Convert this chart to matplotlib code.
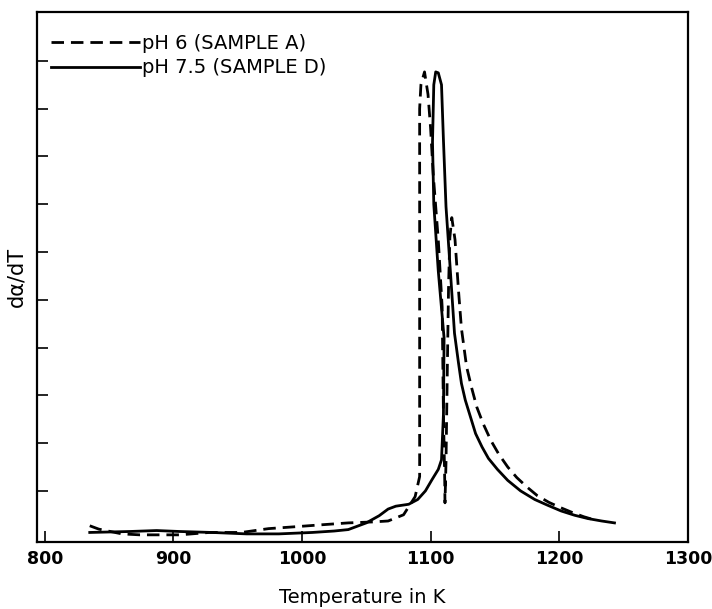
import matplotlib
matplotlib.use("Agg")
import matplotlib.pyplot as plt

# pH 6 (sample A), dashed -- traced in drawing order (the curve loops near the peak)
temp_a = [835, 842, 860, 874, 890, 905, 928, 953, 974, 995, 1015, 1036, 1055,
          1067, 1079, 1088, 1091.5, 1091.5, 1091.5, 1092.5, 1095.3, 1098, 1100,
          1102, 1106, 1109, 1110, 1111, 1111.2, 1112, 1113, 1114, 1115, 1116.5,
          1119, 1121.7, 1124, 1128, 1132, 1136, 1141, 1147, 1153, 1160, 1167,
          1175, 1183, 1192, 1201, 1210, 1219, 1229]
dadt_a = [0.27, 0.2, 0.1, 0.08, 0.08, 0.08, 0.13, 0.13, 0.21, 0.25, 0.29, 0.33, 0.35,
          0.37, 0.5, 0.88, 1.3, 5.0, 9.0, 9.5, 9.77, 9.3, 8.6,
          7.65, 6.25, 4.85, 2.63, 1.23, 0.75, 1.6, 3.5, 5.3, 6.3, 6.72,
          6.26, 5.2, 4.4, 3.6, 3.15, 2.75, 2.4, 2.05, 1.77, 1.5, 1.28,
          1.08, 0.9, 0.76, 0.65, 0.55, 0.46, 0.38]

# pH 7.5 (sample D), solid
temp_d = [835, 866, 887, 905, 930, 957, 982, 1008, 1025, 1036, 1050, 1060, 1067,
          1073, 1083, 1090, 1096, 1101, 1106, 1108.5, 1110, 1110.5, 1106, 1102.5,
          1101.5, 1102.5, 1104, 1106, 1108.5, 1110, 1112, 1115.5, 1118.6, 1121.7,
          1124, 1127, 1131, 1135, 1140, 1145, 1152, 1160, 1170, 1181, 1191,
          1201.5, 1212, 1222.5, 1233, 1243]
dadt_d = [0.13, 0.15, 0.17, 0.15, 0.13, 0.10, 0.10, 0.13, 0.16, 0.19, 0.33, 0.48, 0.62,
          0.68, 0.72, 0.82, 1.0, 1.23, 1.45, 1.65, 2.6, 4.2, 5.6, 7.0,
          8.3, 9.5, 9.77, 9.75, 9.5, 8.35, 6.95, 5.56, 4.3, 3.68,
          3.25, 2.9, 2.55, 2.2, 1.92, 1.68, 1.45, 1.22, 1.0, 0.82, 0.7,
          0.58, 0.49, 0.42, 0.37, 0.33]

x_ticks = [800, 900, 1000, 1100, 1200, 1300]
y_ticks = list(range(1, 11))

fig = plt.figure(figsize=(7.12, 6.09), dpi=100)
ax = fig.add_axes([0.052, 0.110, 0.914, 0.870])

ax.plot(temp_a, dadt_a, color="black", lw=2.0, linestyle=(0, (4.5, 2.5)),
        label="pH 6 (SAMPLE A)")
ax.plot(temp_d, dadt_d, color="black", lw=2.0, label="pH 7.5 (SAMPLE D)")

ax.set_xlim(794, 1300)
ax.set_ylim(-0.07, 11.02)
ax.set_xticks(x_ticks)
ax.set_xticklabels([str(t) for t in x_ticks], fontsize=12.5, fontweight="bold")
ax.set_yticks(y_ticks)
ax.set_yticklabels([])
ax.tick_params(direction="in", length=8, width=1.2, pad=6)
for s in ax.spines.values():
    s.set_linewidth(1.6)

ax.set_xlabel("Temperature in K", fontsize=14, labelpad=14)
ax.set_ylabel("d\u03b1/dT", fontsize=15, labelpad=2)

ax.legend(loc="upper left", bbox_to_anchor=(-0.012, 1.0), frameon=False,
          fontsize=14, handlelength=4.6, handletextpad=0.1,
          borderaxespad=0.7, labelspacing=0.3)

fig.savefig("out.png", dpi=100)
